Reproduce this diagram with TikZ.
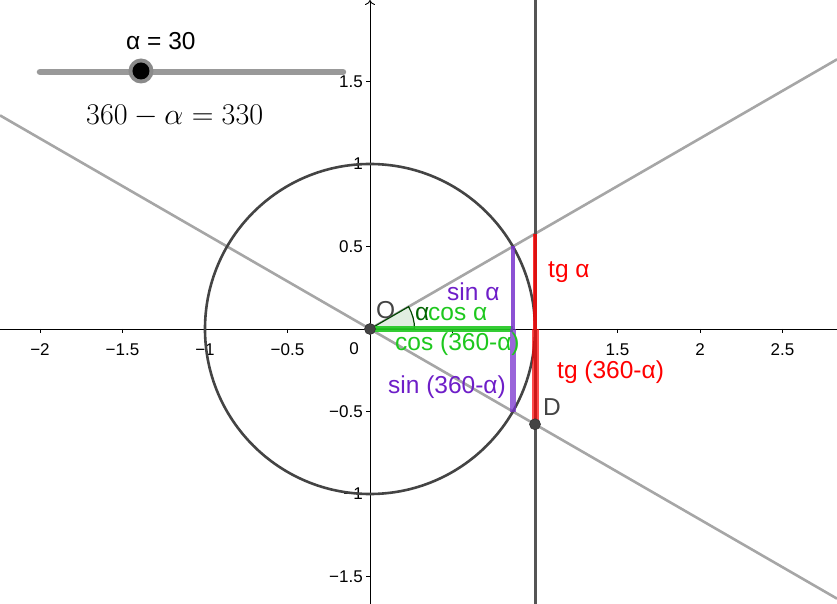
\documentclass[tikz,border=0pt]{standalone}
\usepackage{fontspec}
\newfontfamily\geofont{Liberation Sans}
\usetikzlibrary{arrows.meta}
\definecolor{lgrey}{HTML}{A6A6A6}
\definecolor{dgrey}{HTML}{444444}
\definecolor{vgrey}{HTML}{555555}
\definecolor{myred}{HTML}{FF0000}
\definecolor{mypurple}{RGB}{120,50,205}
\definecolor{purptext}{RGB}{110,30,200}
\definecolor{mygreen}{RGB}{30,200,30}
\definecolor{dgreen}{RGB}{0,100,0}
\definecolor{sectfill}{RGB}{225,238,225}
\definecolor{slidergrey}{HTML}{999999}
\begin{document}
\begin{tikzpicture}[x=165pt,y=165pt,
  lab/.style={font=\geofont\fontsize{24.5}{26}\selectfont, inner sep=0pt, anchor=base west},
  axlab/.style={font=\geofont\fontsize{17}{19}\selectfont, inner sep=0pt},
  axisline/.style={line width=0.9pt, black},
  tickline/.style={line width=0.9pt, black},
  gline/.style={line width=2.6pt, lgrey},
  ptstyle/.style={circle, fill=dgrey, draw=black!80, line width=0.6pt, minimum size=11pt, inner sep=0pt}]
\useasboundingbox (-370/165,-275/165) rectangle (467/165,329/165);
% axes
\coordinate (XL) at (-370/165,0);
\coordinate (XR) at (467/165,0);
\coordinate (YB) at (0,-275/165);
\coordinate (YT) at (0,329/165);
\draw[axisline] (XL) -- (XR);
\draw[axisline,-{To[length=5pt,width=10pt]}] (YB) -- (YT);
\foreach \t in {-2,-1.5,-1,-0.5,0.5,1,1.5,2,2.5}
  \draw[tickline] (\t,0) -- (\t,-4/165);
\foreach \t in {-1.5,-1,-0.5,0.5,1,1.5}
  \draw[tickline] (0,\t) -- (-4/165,\t);
\foreach \t/\s in {-2/−2,-1.5/−1.5,-1/−1,-0.5/−0.5,1.5/1.5,2/2,2.5/2.5}
  \node[axlab] (xl\t) at (\t,-21/165) {\s};
\node[axlab] (xl0) at (-16/165,-20/165) {0};
\foreach \t/\s in {1.5/1.5,1/1,0.5/0.5,-0.5/−0.5,-1/−1,-1.5/−1.5}
  \node[axlab,anchor=east] (yl\t) at (-7/165,\t) {\s};
% geometry
\coordinate (O) at (0,0);
\coordinate (T) at (1,0.57735);
\coordinate (A) at (1,0);
\coordinate (D) at (1,-0.57735);
\coordinate (P) at (0.86603,0.5);
\coordinate (C) at (0.86603,0);
\coordinate (Q) at (0.86603,-0.5);
\coordinate (L1b) at (467/165,{0.57735*467/165});
\coordinate (L2a) at (-370/165,{0.57735*370/165});
\coordinate (L2b) at (467/165,{-0.57735*467/165});
\coordinate (VT) at (1,329/165);
\coordinate (VB) at (1,-275/165);
\draw[gline] (O) -- (L1b);
\draw[gline] (L2a) -- (L2b);
\draw[dgrey, line width=2.6pt] (O) circle (1);
\draw[vgrey, line width=3pt] (VB) -- (VT);
% angle sector
\draw[fill=sectfill, draw=dgreen!70!black, line width=1.2pt] (O) -- (0.27,0) arc (0:30:0.27) -- cycle;
% segments
\draw[mygreen, line width=6pt, opacity=0.9] (O) -- (C);
\draw[mypurple, line width=4pt, opacity=0.85] (P) -- (C);
\draw[mypurple, line width=6.5pt, opacity=0.75] (C) -- (Q);
\draw[myred, line width=4.5pt, opacity=0.8] (T) -- (A);
\draw[myred, line width=7pt, opacity=0.7] (A) -- (D);
% points
\node[ptstyle] (Opt) at (O) {};
\node[ptstyle] (Dpt) at (D) {};
% labels
\begin{scope}[shift={(-370pt,329pt)}, x=1pt, y=-1pt]
\node[lab, text=dgrey] (Olab) at (376,319) {O};
\node[lab, text=dgrey] (Dlab) at (543,415) {D};
\node[lab, text=purptext] (sina) at (447,301) {sin α};
\node[lab, text=dgreen] (alab) at (415,321) {α};
\node[lab, text=mygreen] (cosa) at (428,321) {cos α};
\node[lab, text=mygreen] (cos360) at (395,351) {cos (360-α)};
\node[lab, text=purptext] (sin360) at (388,393) {sin (360-α)};
\node[lab, text=myred] (tga) at (548,278) {tg α};
\node[lab, text=myred] (tg360) at (557,378) {tg (360-α)};
% slider
\coordinate (S1) at (40,72);
\coordinate (S2) at (343,72);
\draw[slidergrey, line width=6.5pt, line cap=round] (S1) -- (S2);
\node[circle, fill=slidergrey!90!black, minimum size=25pt, inner sep=0pt] (knob) at (141,71) {};
\node[circle, fill=black, minimum size=17pt, inner sep=0pt] (knobin) at (knob) {};
\node[lab] (alpha) at (126,50) {α = 30};
\node[inner sep=0pt, anchor=base west, scale=1.21, font=\fontsize{24.88}{26}\selectfont] (eq) at (86,125) {$360-\alpha=330$};
\end{scope}
\end{tikzpicture}
\end{document}
